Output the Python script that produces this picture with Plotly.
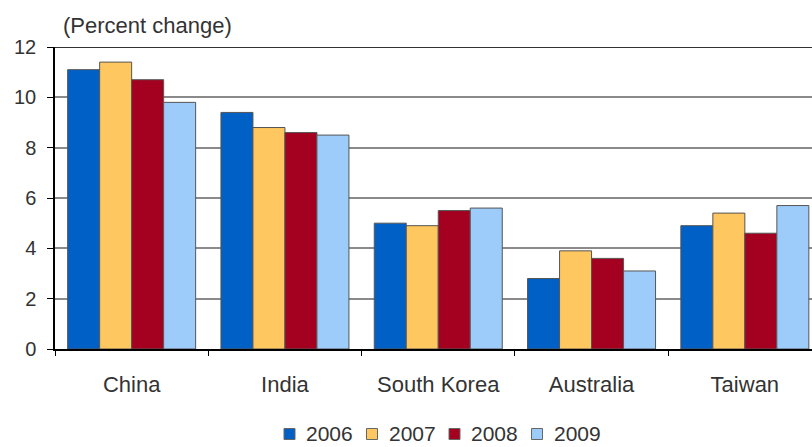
import plotly.graph_objects as go

categories = ["China", "India", "South Korea", "Australia", "Taiwan"]
years = ["2006", "2007", "2008", "2009"]
v2006 = [11.1, 9.4, 5.0, 2.8, 4.9]
v2007 = [11.4, 8.8, 4.9, 3.9, 5.4]
v2008 = [10.7, 8.6, 5.5, 3.6, 4.6]
v2009 = [9.8, 8.5, 5.6, 3.1, 5.7]
colors = ["#0060C6", "#FFC75F", "#A4001F", "#9DCBFA"]
y_ticks = [0, 2, 4, 6, 8, 10, 12]

W, H = 812, 447
L, T, B = 55, 47, 98
PW, PH = W - L, H - T - B


def px_x(px):
    return (px - L) / PW


def px_y(py):
    return (H - B - py) / PH


fig = go.Figure()
for yr, vals, c in zip(years, [v2006, v2007, v2008, v2009], colors):
    fig.add_trace(go.Bar(x=categories, y=vals, name=yr,
                         marker=dict(color=c, line=dict(color="#555555", width=1))))

font = "Liberation Sans, Arial, sans-serif"
txt = "#333333"
cat_w = 153.3
visible = PW / cat_w

annotations = [dict(text="(Percent change)", xref="paper", yref="paper",
                    x=px_x(61), y=px_y(25), xanchor="left", yanchor="middle",
                    showarrow=False, font=dict(size=22, color=txt))]
shapes = [dict(type="line", xref="paper", yref="y", x0=0, x1=1, y0=12, y1=12,
               line=dict(color="#333333", width=2))]

# legend (drawn manually for compact spacing)
leg_x0, leg_step, leg_y = 284, 82.5, 433
for i, (yr, c) in enumerate(zip(years, colors)):
    sx = leg_x0 + i * leg_step
    shapes.append(dict(type="rect", xref="paper", yref="paper",
                       x0=px_x(sx), x1=px_x(sx + 11), y0=px_y(leg_y + 6.5), y1=px_y(leg_y - 4.5),
                       fillcolor=c, line=dict(color="#666666", width=1)))
    annotations.append(dict(text=yr, xref="paper", yref="paper", x=px_x(sx + 20),
                            y=px_y(leg_y), xanchor="left", yanchor="middle",
                            showarrow=False, font=dict(size=21, color=txt)))

fig.update_layout(
    width=W, height=H,
    margin=dict(l=L, r=0, t=T, b=B, autoexpand=False),
    paper_bgcolor="white", plot_bgcolor="white",
    barmode="group", bargap=0.165, bargroupgap=0,
    font=dict(family=font, size=20, color=txt),
    showlegend=False,
    annotations=annotations,
    shapes=shapes,
)
fig.update_xaxes(range=[-0.5, -0.5 + visible], showline=True, linecolor="black", linewidth=1.5,
                 ticks="outside", tickson="boundaries", ticklen=5, tickcolor="black",
                 ticklabelstandoff=15, showgrid=False, tickfont=dict(size=22, color=txt))
fig.update_yaxes(range=[0, 12], tickvals=y_ticks, showline=True, linecolor="black", linewidth=1.5,
                 ticks="outside", ticklen=6, tickcolor="black", showgrid=True,
                 gridcolor="#8a8a8a", gridwidth=1.5, zeroline=False,
                 tickfont=dict(size=20, color=txt), ticklabelstandoff=7)
fig.write_html("out.html")
